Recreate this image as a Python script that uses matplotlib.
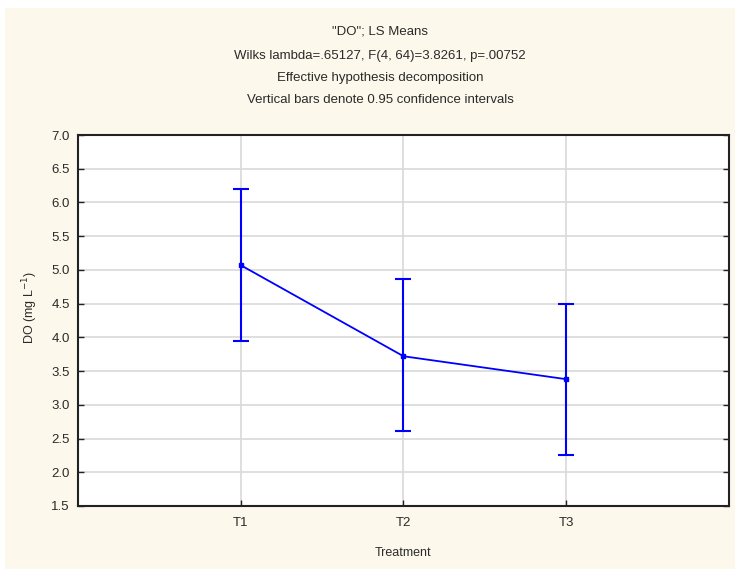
import matplotlib
matplotlib.use("Agg")
import matplotlib.pyplot as plt
from matplotlib.patches import Rectangle

categories = ["T1", "T2", "T3"]
means = [5.07, 3.72, 3.38]
upper = [6.20, 4.86, 4.50]
lower = [3.94, 2.61, 2.25]
yticks = [1.5, 2.0, 2.5, 3.0, 3.5, 4.0, 4.5, 5.0, 5.5, 6.0, 6.5, 7.0]
title_lines = ['"DO"; LS Means',
               'Wilks lambda=.65127, F(4, 64)=3.8261, p=.00752',
               'Effective hypothesis decomposition',
               'Vertical bars denote 0.95 confidence intervals']

plt.rcParams['font.family'] = ['Liberation Sans', 'DejaVu Sans']
txtc = '#2a2a2a'

fig = plt.figure(figsize=(7.35, 5.69), dpi=100)
fig.patch.set_facecolor('white')
fig.patches.append(Rectangle((5/735, 0), 730/735, 561/569, transform=fig.transFigure,
                             facecolor='#fdf8ec', edgecolor='none', zorder=-10))

ax = fig.add_axes([78/735, 63/569, 651/735, 371/569])
ax.set_facecolor('white')

x = [1, 2, 3]
yerr = [[m - l for m, l in zip(means, lower)], [u - m for m, u in zip(means, upper)]]
ax.errorbar(x, means, yerr=yerr, color='#0000ff', lw=1.3, elinewidth=1.5, capsize=6,
            capthick=1.5, marker='s', markersize=3.5, zorder=3)

ax.set_xlim(0, 4)
ax.set_ylim(1.5, 7.0)
ax.set_xticks(x)
ax.set_xticklabels(categories)
ax.set_yticks(yticks)
ax.set_yticklabels([f"{v:.1f}" for v in yticks])
ax.grid(True, color='#d9d9d9', lw=1.2)
ax.set_axisbelow(True)
ax.tick_params(direction='in', length=4, width=1, colors='#222222', labelcolor=txtc,
               labelsize=9.5, right=True, top=False)
ax.tick_params(axis='y', pad=6)
ax.tick_params(axis='x', pad=8)
for s in ax.spines.values():
    s.set_color('#222222')
    s.set_linewidth(1.5)

ax.set_xlabel('Treatment', fontsize=9, color=txtc, labelpad=13)
fig.text(30/735, 1 - 308/569, 'DO (mg L$^{-1}$)', rotation=90, fontsize=9, color=txtc,
         ha='center', va='center')

ys = [32, 56, 78, 100]
for t, yy in zip(title_lines, ys):
    fig.text(380/735, 1 - yy/569, t, fontsize=9.5, color=txtc, ha='center', va='center')

fig.savefig('out.png', dpi=100, facecolor=fig.get_facecolor())
